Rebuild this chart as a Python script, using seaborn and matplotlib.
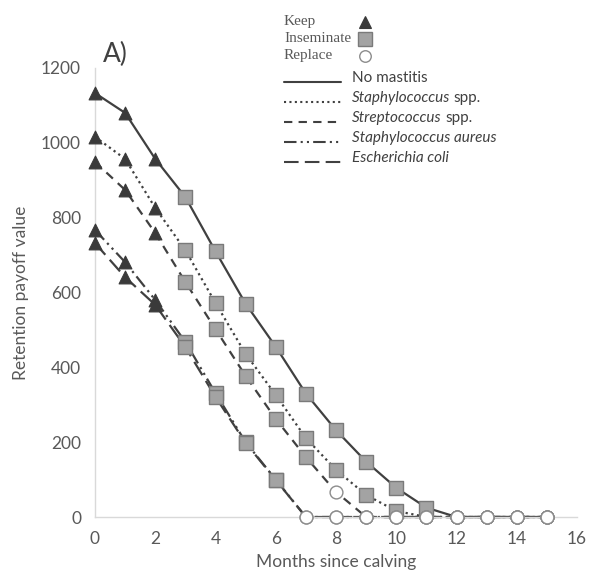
import numpy as np
import pandas as pd
import matplotlib
matplotlib.use("Agg")
import matplotlib.pyplot as plt
from matplotlib.lines import Line2D
import seaborn as sns

# ---------------- data ----------------
months = list(range(16))
series_names = ["No mastitis", "Staphylococcus spp.", "Streptococcus spp.",
                "Staphylococcus aureus", "Escherichia coli"]
no_mastitis   = [1133, 1080, 957, 855, 710, 570, 455, 330, 232, 148, 78, 25, 0, 0, 0, 0]
staph_spp     = [1016, 957, 826, 713, 572, 436, 326, 211, 126, 59, 16, 0, 0, 0, 0, 0]
strep_spp     = [949, 874, 759, 628, 502, 377, 262, 160, 67, 0, 0, 0, 0, 0, 0, 0]
staph_aureus  = [767, 681, 580, 468, 331, 200, 100, 0, 0, 0, 0, 0, 0, 0, 0, 0]
e_coli        = [732, 641, 567, 454, 321, 198, 99, 0, 0, 0, 0, 0, 0, 0, 0, 0]
# K = keep, I = inseminate, R = replace
act_no_mastitis  = "KKKIIIIIIIIIRRRR"
act_staph_spp    = "KKKIIIIIIIIRRRRR"
act_strep_spp    = "KKKIIIIIRRRRRRRR"
act_staph_aureus = "KKKIIIIRRRRRRRRR"
act_e_coli       = "KKKIIIIRRRRRRRRR"

values = [no_mastitis, staph_spp, strep_spp, staph_aureus, e_coli]
actions = [act_no_mastitis, act_staph_spp, act_strep_spp, act_staph_aureus, act_e_coli]
action_names = {"K": "Keep", "I": "Inseminate", "R": "Replace"}

rows = []
for name, vals, acts in zip(series_names, values, actions):
    for m, v, a in zip(months, vals, acts):
        rows.append({"series": name, "month": m, "value": v, "action": action_names[a]})
df = pd.DataFrame(rows)

# ---------------- style ----------------
sns.set_style("white")
plt.rcParams["font.family"] = ["Lato", "DejaVu Sans"]

line_col = "#404040"
dash_map = {
    "No mastitis": "",
    "Staphylococcus spp.": (1, 1.6),
    "Streptococcus spp.": (4, 3),
    "Staphylococcus aureus": (6, 2, 1, 2, 1, 2),
    "Escherichia coli": (7, 3),
}

fig = plt.figure(figsize=(5.89, 5.74), dpi=100)
ax = fig.add_axes([95 / 589, 1 - 517 / 574, (577 - 95) / 589, (517 - 68) / 574])

sns.lineplot(data=df, x="month", y="value", style="series", dashes=dash_map,
             color=line_col, linewidth=1.6, legend=False, ax=ax, sort=False,
             estimator=None, zorder=2)
for ln in ax.lines:
    ln.set_clip_on(False)

marker_styles = {
    "Keep": dict(marker="^", s=85, color="#3a3a3a", edgecolor="#3a3a3a", linewidth=0.8),
    "Inseminate": dict(marker="s", s=115, color="#a3a3a3", edgecolor="#7a7a7a", linewidth=1.0),
    "Replace": dict(marker="o", s=85, color="white", edgecolor="#8c8c8c", linewidth=1.0),
}
for act, kw in marker_styles.items():
    sub = df[df["action"] == act]
    sns.scatterplot(data=sub, x="month", y="value", ax=ax, legend=False,
                    zorder=3, clip_on=False, **kw)

ax.set_xlim(0, 16)
ax.set_ylim(0, 1200)
ax.set_xticks(np.arange(0, 17, 2))
ax.set_yticks(np.arange(0, 1201, 200))
for s in ["top", "right"]:
    ax.spines[s].set_visible(False)
for s in ["left", "bottom"]:
    ax.spines[s].set_color("#d9d9d9")
    ax.spines[s].set_linewidth(1.0)
ax.tick_params(axis="both", colors="#d9d9d9", labelcolor="#595959",
               labelsize=12.5, length=4, width=1, direction="out", pad=6)
ax.set_xlabel("Months since calving", fontsize=12.5, color="#595959", labelpad=5)
ax.set_ylabel("Retention payoff value", fontsize=12.5, color="#595959", labelpad=9)

# ---------------- custom legend / panel label ----------------
def fx(px):
    return px / 589

def fy(py):
    return 1 - py / 574

fig.text(fx(103), fy(62), "A)", fontsize=19, color="#404040", ha="left", va="baseline")

serif = ["Liberation Serif", "DejaVu Serif"]
leg1 = [("Keep", marker_styles["Keep"]), ("Inseminate", marker_styles["Inseminate"]),
        ("Replace", marker_styles["Replace"])]
for i, (lab, kw) in enumerate(leg1):
    y = 22 + i * 17
    fig.text(fx(284), fy(y), lab, fontsize=11, family=serif, color="#595959",
             ha="left", va="center")
    fig.add_artist(Line2D([fx(365)], [fy(y)], transform=fig.transFigure,
                          marker=kw["marker"], markersize=np.sqrt(kw["s"]) * 0.9,
                          markerfacecolor=kw["color"], markeredgecolor=kw["edgecolor"],
                          markeredgewidth=kw["linewidth"], linestyle="none"))

for i, name in enumerate(series_names):
    y = 78 + i * 20
    d = dash_map[name]
    ln = Line2D([fx(284), fx(341)], [fy(y + 4), fy(y + 4)], transform=fig.transFigure,
                color=line_col, linewidth=1.5)
    if d:
        ln.set_dashes(d)
    fig.add_artist(ln)
    if name == "No mastitis":
        fig.text(fx(352), fy(y), name, fontsize=11, color="#404040", ha="left", va="center")
    else:
        parts = name.split(" ")
        if name.endswith("spp."):
            t = fig.text(fx(352), fy(y), parts[0], fontsize=11, style="italic",
                         color="#404040", ha="left", va="center")
            fig.canvas.draw()
            bb = t.get_window_extent()
            fig.text(bb.x1 / fig.bbox.width + 0.006, fy(y), "spp.", fontsize=11,
                     color="#404040", ha="left", va="center")
        else:
            fig.text(fx(352), fy(y), name, fontsize=11, style="italic",
                     color="#404040", ha="left", va="center")

fig.savefig("out.png", dpi=100)
